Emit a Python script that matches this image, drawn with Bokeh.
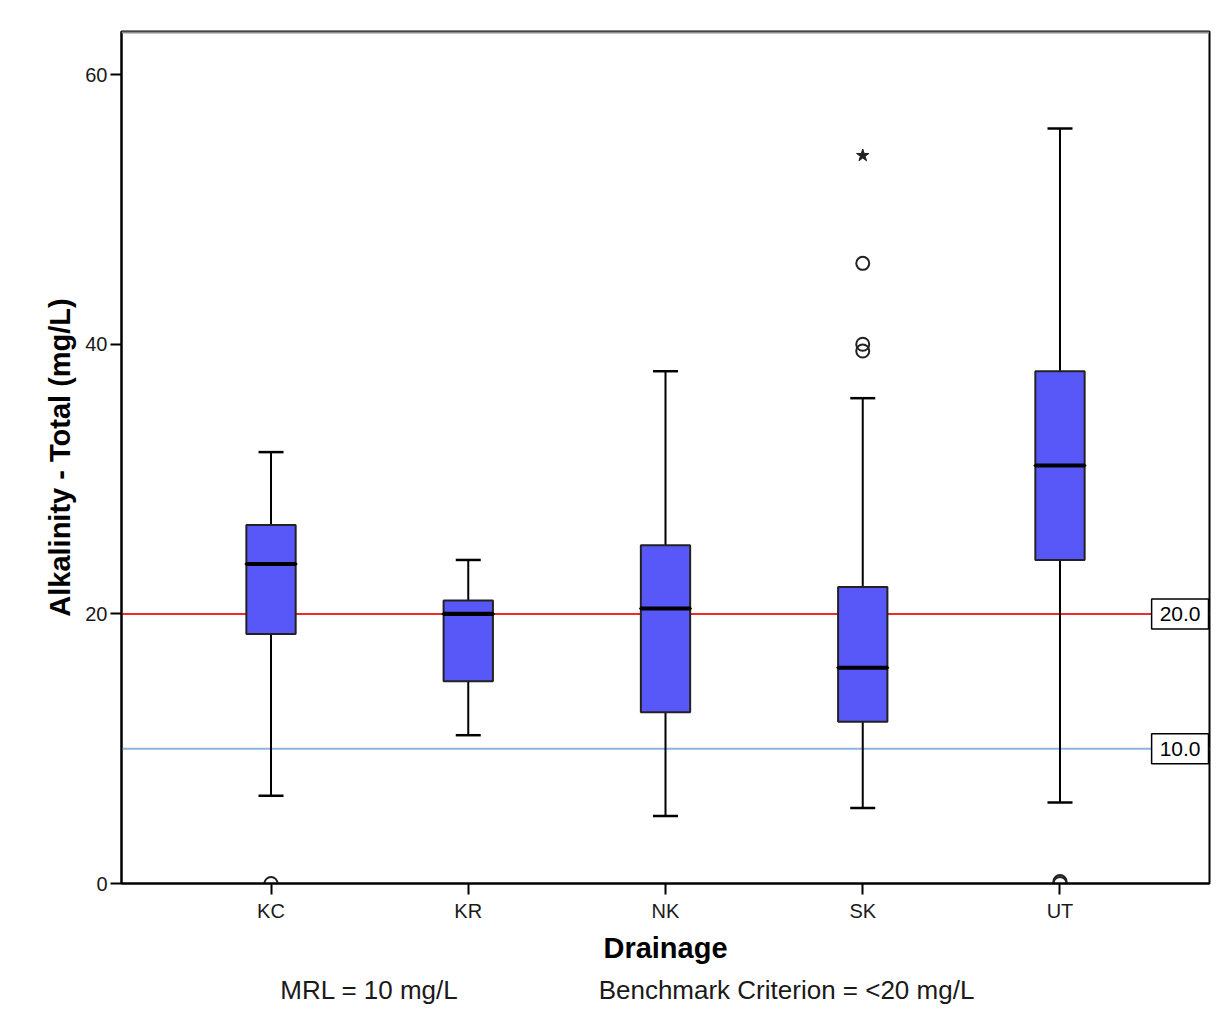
from bokeh.plotting import figure
from bokeh.models import Range1d, FixedTicker, Span, Label, LinearAxis
from bokeh.embed import file_html
from bokeh.resources import INLINE

# ---- data ----
categories = ["KC", "KR", "NK", "SK", "UT"]
whisker_high = [32.0, 24.0, 38.0, 36.0, 56.0]
q3 = [26.6, 21.0, 25.1, 22.0, 38.0]
median = [23.7, 20.0, 20.4, 16.0, 31.0]
q1 = [18.5, 15.0, 12.7, 12.0, 24.0]
whisker_low = [6.5, 11.0, 5.0, 5.6, 6.0]
outlier_cat = ["KC", "SK", "SK", "SK", "UT", "UT"]
outlier_val = [0.0, 46.0, 40.0, 39.5, 0.0, 0.15]
extreme_cat = ["SK"]
extreme_val = [54.0]
y_ticks = [0, 20, 40, 60]
ref_values = [20.0, 10.0]
ref_labels = ["20.0", "10.0"]
footnotes = ["MRL = 10 mg/L", "Benchmark Criterion = <20 mg/L"]

FONT = "Liberation Sans"

# category positions on a numeric axis (1..n)
pos = {c: i + 1 for i, c in enumerate(categories)}
xs = [pos[c] for c in categories]
out_x = [pos[c] for c in outlier_cat]
ext_x = [pos[c] for c in extreme_cat]

X0, X1 = 0.242, 5.758

p = figure(
    width=1214, height=1018,
    x_range=Range1d(X0, X1),
    y_range=Range1d(0, 63.2),
    output_backend="svg", toolbar_location=None,
    min_border_left=121, min_border_right=5, min_border_top=31, min_border_bottom=135,
    background_fill_color="white", border_fill_color="white",
)
p.outline_line_color = "black"
p.outline_line_width = 2
p.xgrid.visible = False
p.ygrid.visible = False

# axes
p.xaxis.ticker = FixedTicker(ticks=xs)
p.xaxis.major_label_overrides = {x: c for x, c in zip(xs, categories)}
p.yaxis.ticker = FixedTicker(ticks=y_ticks)
for ax in (p.xaxis[0], p.yaxis[0]):
    ax.minor_tick_line_color = None
    ax.axis_line_color = "black"
    ax.axis_line_width = 2
    ax.major_tick_line_color = "black"
    ax.major_tick_line_width = 2
    ax.major_tick_in = 0
    ax.major_tick_out = 11
    ax.major_label_text_font = FONT
    ax.major_label_text_font_size = "20px"
    ax.major_label_text_color = "#1a1a1a"
    ax.axis_label_text_font = FONT
    ax.axis_label_text_font_style = "bold"
    ax.axis_label_text_font_size = "29px"
    ax.axis_label_text_color = "black"
p.yaxis.major_label_standoff = 3
p.xaxis.major_label_standoff = 5
p.yaxis.axis_label = "Alkalinity - Total (mg/L)"
p.xaxis.axis_label = "Drainage"
p.yaxis.axis_label_standoff = 6
p.xaxis.axis_label_standoff = 7

# footnote line: an unlabelled helper axis below carrying the two notes
foot_pos = [248, 665]
p.extra_x_ranges = {"foot": Range1d(0, 1088)}
foot_axis = LinearAxis(x_range_name="foot", ticker=FixedTicker(ticks=foot_pos),
                       major_label_overrides={k: t for k, t in zip(foot_pos, footnotes)})
foot_axis.axis_line_color = None
foot_axis.major_tick_line_color = None
foot_axis.minor_tick_line_color = None
foot_axis.major_tick_in = 0
foot_axis.major_tick_out = 0
foot_axis.minor_tick_in = 0
foot_axis.minor_tick_out = 0
foot_axis.major_label_standoff = 8
foot_axis.major_label_text_font = FONT
foot_axis.major_label_text_font_size = "26px"
foot_axis.major_label_text_color = "#1a1a1a"
p.add_layout(foot_axis, "below")

# top border grey
p.add_layout(Span(location=63.2, dimension="width", line_color="#8a8a8a", line_width=4))

# reference lines
ref_colors = ["#ee2a2a", "#8cb4e0"]
for v, c in zip(ref_values, ref_colors):
    p.add_layout(Span(location=v, dimension="width", line_color=c, line_width=2, level="underlay"))

# whiskers
p.segment(x0=xs, y0=whisker_low, x1=xs, y1=whisker_high, line_color="black", line_width=2)
p.scatter(x=xs, y=whisker_high, marker="dash", size=25, line_color="black", line_width=2.5)
p.scatter(x=xs, y=whisker_low, marker="dash", size=25, line_color="black", line_width=2.5)

# boxes
p.vbar(x=xs, bottom=q1, top=q3, width=0.25,
       fill_color="#5858f8", line_color="#222222", line_width=2)
# median
p.rect(x=xs, y=median, width=0.25, height=0.001, fill_color="black",
       line_color="black", line_width=4)

# outliers
p.scatter(x=out_x, y=outlier_val, marker="circle", size=13,
          fill_color=None, line_color="#222222", line_width=2)
p.scatter(x=ext_x, y=extreme_val, marker="star", size=13,
          fill_color="#222222", line_color="#222222", line_width=1)

# reference value labels at right edge
for v, t in zip(ref_values, ref_labels):
    p.add_layout(Label(x=X1, y=v, text=t, text_align="right", text_baseline="middle",
                       x_offset=-1, text_font=FONT, text_font_size="21px", text_color="black",
                       background_fill_color="white", border_line_color="black",
                       border_line_width=1.5, padding=8))

open("out.html", "w").write(file_html(p, INLINE))
